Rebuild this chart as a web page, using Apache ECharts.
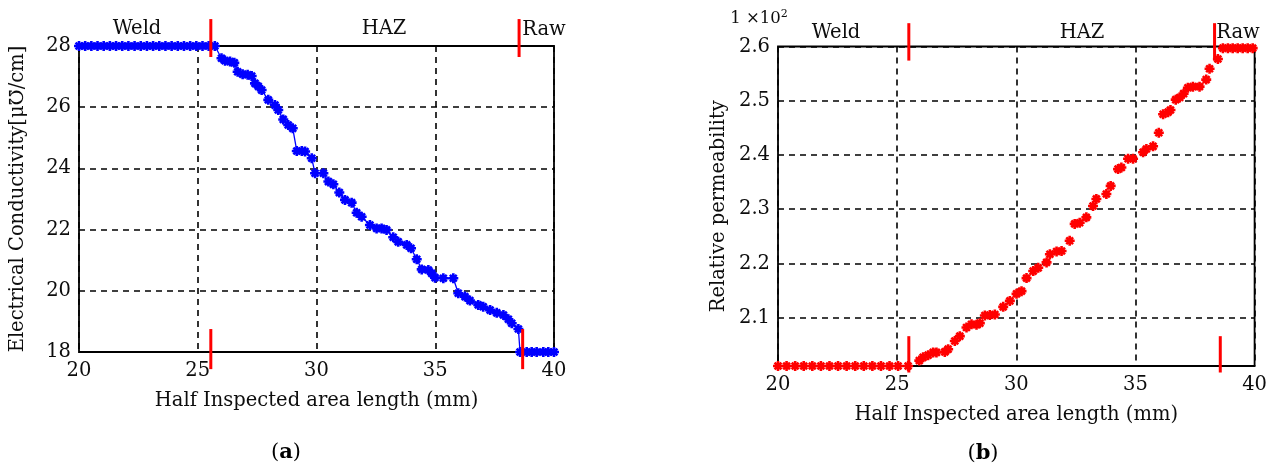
<!DOCTYPE html>
<html><head><meta charset="utf-8">
<script src="https://cdn.jsdelivr.net/npm/echarts@6/dist/echarts.min.js"></script>
<style>html,body{margin:0;padding:0;background:#fff}#c{width:1270px;height:467px}</style>
</head><body><div id="c"></div>
<script>
// ---- data (a): electrical conductivity ----
const condX = [20.0,20.26,20.52,20.78,21.04,21.3,21.56,21.82,22.08,22.34,22.6,22.86,23.12,23.38,23.64,23.9,24.16,24.42,24.68,24.94,25.2,25.46,25.72,
  26.0,26.15,26.36,26.54,26.68,26.89,27.1,27.27,27.41,27.55,27.69,27.97,28.25,28.39,28.6,28.81,29.0,29.17,29.38,29.52,29.8,29.94,30.29,30.5,30.71,30.96,31.2,31.48,31.69,31.9,32.25,32.53,32.74,32.95,33.23,33.44,33.8,33.98,34.22,34.43,34.71,34.85,34.99,35.34,35.76,35.97,36.25,36.46,36.81,37.02,37.31,37.59,37.87,38.08,38.22,38.5,
  38.57,38.85,39.06,39.27,39.55,39.76,40.0];
const condY = [28,28,28,28,28,28,28,28,28,28,28,28,28,28,28,28,28,28,28,28,28,28,28,
  27.6,27.52,27.49,27.45,27.16,27.08,27.06,27.02,26.78,26.68,26.56,26.24,26.07,25.91,25.6,25.42,25.31,24.57,24.57,24.55,24.33,23.84,23.84,23.57,23.48,23.21,22.97,22.88,22.55,22.42,22.15,22.04,22.04,21.99,21.75,21.6,21.5,21.39,21.03,20.7,20.68,20.57,20.43,20.41,20.41,19.92,19.81,19.68,19.54,19.48,19.37,19.28,19.21,19.07,18.94,18.75,
  18,18,18,18,18,18,18];
// ---- data (b): relative permeability (x10^2) ----
const permX = [20.0,20.36,20.72,21.08,21.44,21.8,22.16,22.52,22.88,23.24,23.6,23.96,24.32,24.68,25.04,25.46,
  25.93,26.09,26.3,26.51,26.65,27.0,27.14,27.42,27.63,27.91,28.12,28.33,28.47,28.68,28.89,29.1,29.45,29.73,30.01,30.22,30.43,30.71,30.92,31.27,31.41,31.69,31.9,32.24,32.45,32.66,32.94,33.22,33.36,33.78,33.96,34.27,34.41,34.69,34.9,35.32,35.46,35.74,35.98,36.16,36.37,36.47,36.69,36.86,37.02,37.2,37.41,37.69,37.97,38.11,38.46,
  38.67,38.88,39.08,39.29,39.5,39.71,39.92];
const permY = [2.011,2.011,2.011,2.011,2.011,2.011,2.011,2.011,2.011,2.011,2.011,2.011,2.011,2.011,2.011,2.011,
  2.021,2.027,2.031,2.036,2.036,2.037,2.042,2.057,2.066,2.082,2.088,2.087,2.09,2.104,2.105,2.106,2.12,2.131,2.144,2.149,2.173,2.186,2.192,2.202,2.217,2.222,2.223,2.242,2.273,2.275,2.285,2.306,2.319,2.328,2.343,2.374,2.377,2.393,2.393,2.405,2.411,2.416,2.441,2.475,2.479,2.483,2.502,2.506,2.513,2.524,2.526,2.526,2.539,2.559,2.577,
  2.597,2.597,2.597,2.597,2.597,2.597,2.597];
// axis ticks
const xTicks = [20, 25, 30, 35, 40];
const condYTicks = [18, 20, 22, 24, 26, 28];
const permYTicks = [2.1, 2.2, 2.3, 2.4, 2.5, 2.6];
// zone boundary markers
const condTopMarkX = [25.55, 38.53], condTopMarkY = [27.64, 28.88];
const condBotMarkX = [25.55, 38.68], condBotMarkY = [17.44, 18.75];
const permTopMarkX = [25.49, 38.32], permTopMarkY = [2.574, 2.643];
const permBotMarkX = [25.49, 38.56], permBotMarkY = [1.999, 2.066];
const zoneLabels = ['Weld', 'HAZ', 'Raw'];

const FONT = 'DejaVu Serif';
const TXT = '#0d0d0d';
const star = 'path://M0,5L10,5M5,0L5,10M1.6,1.6L8.4,8.4M8.4,1.6L1.6,8.4';
const zip = (xs, ys) => xs.map((x, i) => [x, ys[i]]);

function xAxisCfg(gi) {
  return {
    gridIndex: gi, type: 'value', min: xTicks[0], max: xTicks[xTicks.length - 1], interval: 5,
    name: 'Half Inspected area length (mm)', nameLocation: 'middle', nameGap: 39,
    nameTextStyle: {fontFamily: FONT, fontSize: 19.5, color: TXT},
    axisLine: {show: false}, axisTick: {show: false},
    axisLabel: {fontFamily: FONT, fontSize: 19.5, color: TXT, margin: 9},
    splitLine: {show: true, lineStyle: {color: '#000', type: [6, 5], width: 1.6}}
  };
}
function markSeries(xi, yi, xs, ys) {
  return xs.map(x => ({
    type: 'line', xAxisIndex: xi, yAxisIndex: yi, data: [[x, ys[0]], [x, ys[1]]],
    symbol: 'none', clip: false, silent: true, z: 5,
    lineStyle: {color: '#ff0000', width: 3}
  }));
}

const chart = echarts.init(document.getElementById('c'), null, {renderer: 'canvas'});
const txt = (x, y, s) => ({
  type: 'text', x: x, y: y,
  style: {text: s, fontFamily: FONT, fontSize: 19.5, fill: TXT, align: 'center', verticalAlign: 'middle'}
});

chart.setOption({
  animation: false,
  grid: [
    {left: 79, top: 46, width: 475, height: 306, show: true, borderColor: '#000', borderWidth: 1.8, backgroundColor: 'transparent'},
    {left: 778, top: 46.5, width: 477, height: 319.5, show: true, borderColor: '#000', borderWidth: 1.8, backgroundColor: 'transparent'}
  ],
  xAxis: [xAxisCfg(0), xAxisCfg(1)],
  yAxis: [
    {gridIndex: 0, type: 'value', min: condYTicks[0], max: condYTicks[condYTicks.length - 1], interval: 2,
     name: 'Electrical Conductivity[μ℧/cm]', nameLocation: 'middle', nameGap: 51,
     nameTextStyle: {fontFamily: FONT, fontSize: 19.5, color: TXT},
     axisLine: {show: false}, axisTick: {show: false},
     axisLabel: {fontFamily: FONT, fontSize: 19.5, color: TXT, margin: 8},
     splitLine: {show: true, lineStyle: {color: '#000', type: [6, 5], width: 1.6}}},
    {gridIndex: 1, type: 'value', min: 2.011, max: 2.6,
     name: 'Relative permeability', nameLocation: 'middle', nameGap: 49,
     nameTextStyle: {fontFamily: FONT, fontSize: 19.5, color: TXT},
     axisLine: {show: false},
     axisTick: {show: false, customValues: permYTicks},
     axisLabel: {fontFamily: FONT, fontSize: 19.5, color: TXT, margin: 8, customValues: permYTicks,
                 formatter: v => v.toFixed(1)},
     splitLine: {show: true, lineStyle: {color: '#000', type: [6, 5], width: 1.6}}}
  ],
  series: [
    {type: 'line', xAxisIndex: 0, yAxisIndex: 0, data: zip(condX, condY), clip: false,
     symbol: star, symbolSize: 10, showAllSymbol: true, z: 3,
     lineStyle: {color: '#0000ff', width: 1.3},
     itemStyle: {color: '#0000ff', borderColor: '#0000ff', borderWidth: 2.6, opacity: 1}},
    {type: 'scatter', xAxisIndex: 1, yAxisIndex: 1, data: zip(permX, permY), clip: false,
     symbol: star, symbolSize: 10, z: 3,
     itemStyle: {color: '#ff0000', borderColor: '#ff0000', borderWidth: 2.6, opacity: 1}},
    ...markSeries(0, 0, condTopMarkX, condTopMarkY),
    ...markSeries(0, 0, condBotMarkX, condBotMarkY),
    ...markSeries(1, 1, permTopMarkX, permTopMarkY),
    ...markSeries(1, 1, permBotMarkX, permBotMarkY)
  ],
  graphic: [
    txt(137, 29, zoneLabels[0]), txt(384, 29, zoneLabels[1]), txt(544, 30, zoneLabels[2]),
    txt(836, 33, zoneLabels[0]), txt(1082, 33, zoneLabels[1]), txt(1238, 33, zoneLabels[2]),
    {type: 'text', x: 759, y: 19, style: {text: '1 ×10{s|2}', fontFamily: FONT, fontSize: 16.5, fill: TXT,
      align: 'center', verticalAlign: 'middle', rich: {s: {fontFamily: FONT, fontSize: 11, fill: TXT, verticalAlign: 'bottom', padding: [0, 0, 10, 0]}}}},
    {type: 'text', x: 286, y: 453, style: {text: '({b|a})', fontFamily: FONT, fontSize: 21, fill: '#000',
      align: 'center', verticalAlign: 'middle', rich: {b: {fontFamily: FONT, fontSize: 21, fontWeight: 'bold', fill: '#000'}}}},
    {type: 'text', x: 983, y: 454, style: {text: '({b|b})', fontFamily: FONT, fontSize: 21, fill: '#000',
      align: 'center', verticalAlign: 'middle', rich: {b: {fontFamily: FONT, fontSize: 21, fontWeight: 'bold', fill: '#000'}}}}
  ]
});
</script>
</body></html>
